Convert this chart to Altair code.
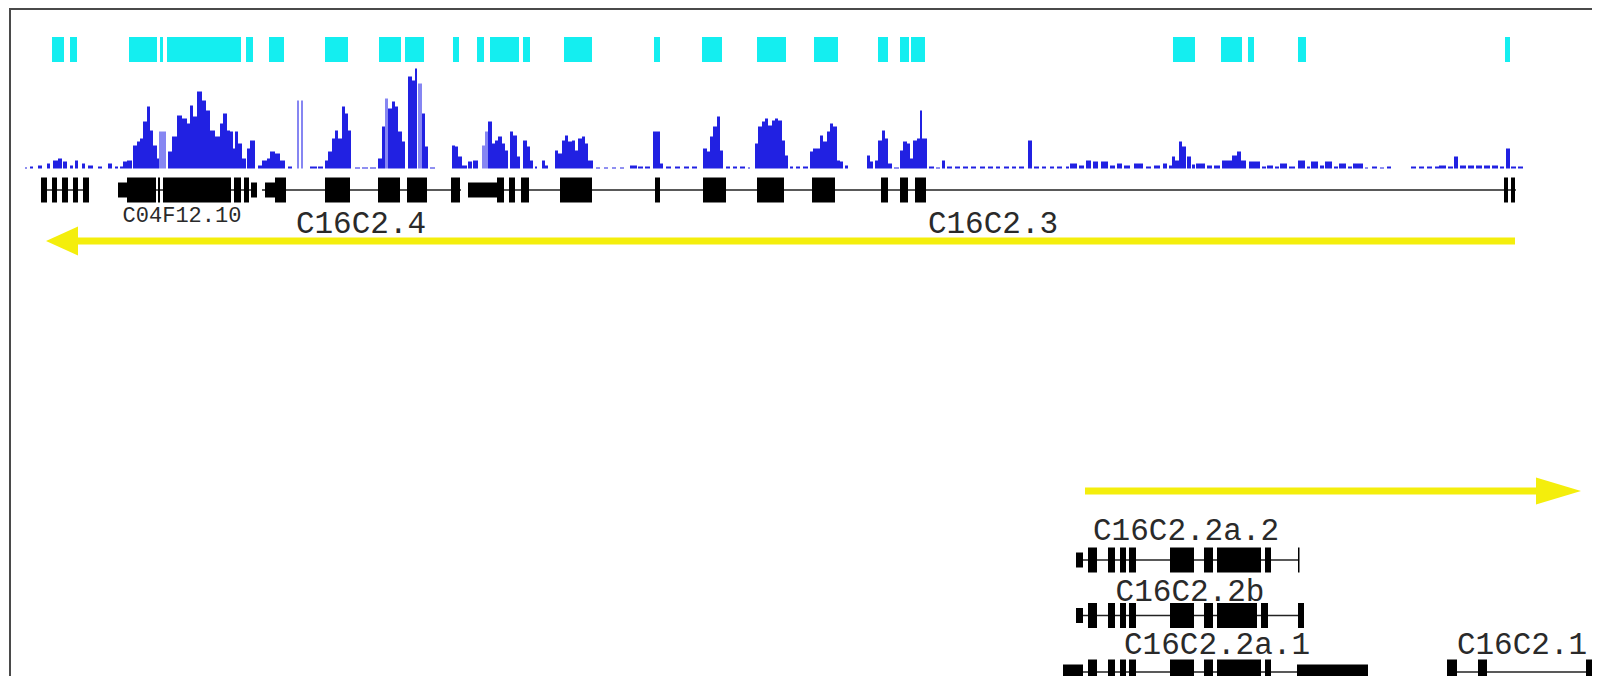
import altair as alt
import pandas as pd

# ---------------- data (genome positions) ----------------
# conserved-element track (cyan)
cyan_start = [52, 70, 129, 160, 167, 246, 269, 325, 379, 405, 453, 477, 490, 523,
              564, 654, 702, 757, 814, 878, 900, 911, 1173, 1221, 1248, 1298, 1505]
cyan_end = [64, 77, 157, 163, 241, 253, 284, 348, 401, 424, 459, 484, 519, 530,
            592, 660, 722, 786, 838, 888, 909, 925, 1195, 1242, 1254, 1306, 1510]

# coverage histogram: start, end, height, tone (d = dark, l = light)
cov_start = [25, 30, 38, 47, 53, 58, 63, 70, 75, 82, 88, 98, 108, 115, 120, 123,
             127, 133, 137, 140, 143, 147, 150, 153, 157, 159, 168, 172, 177, 182, 187, 190, 193, 197, 202, 206,
             210, 215, 220, 223, 227, 230, 233, 235, 238, 242, 247, 250,
             258, 262, 267, 270, 275, 280, 288, 297, 301,
             310, 318, 325, 328, 332, 335, 338, 342, 345, 348, 355, 362, 370,
             378, 382, 385, 388, 392, 395, 398, 402, 408, 412, 415, 418, 422, 425,
             430, 452, 455, 458, 462, 468, 473, 482, 485, 488, 492, 495, 498, 502, 505, 510, 513, 517, 523, 527, 530, 535, 542, 545,
             555, 558, 562, 565, 568, 572, 575, 578, 582, 585, 588,
             596, 604, 612, 620, 630, 638, 645, 653, 657, 660, 666, 675, 684, 692,
             703, 707, 710, 713, 717, 720, 726, 733, 740, 748,
             755, 758, 762, 765, 768, 772, 775, 778, 782, 785, 790, 796, 803,
             810, 813, 817, 820, 823, 827, 830, 833, 837, 840, 845,
             867, 870, 875, 878, 882, 885, 888, 894,
             900, 903, 907, 910, 913, 917, 920, 922,
             929, 936, 942, 947, 955, 963, 971, 980, 988, 996, 1004, 1012, 1019, 1028, 1034, 1042, 1050, 1057,
             1066, 1070, 1079, 1086, 1093, 1101, 1110, 1117, 1124, 1134, 1146, 1154, 1163, 1169, 1172, 1175, 1179, 1182,
             1187, 1192, 1196, 1207, 1214, 1222, 1232, 1237, 1241, 1249, 1262, 1267, 1275, 1280, 1289, 1298, 1307, 1311,
             1320, 1325, 1334, 1339, 1348, 1353, 1365, 1372, 1380, 1387, 1411, 1419, 1427, 1435, 1439, 1448, 1454, 1460,
             1468, 1476, 1484, 1492, 1500, 1506, 1511, 1518]
cov_end = [27, 33, 42, 50, 58, 62, 67, 73, 78, 85, 93, 102, 112, 118, 123, 127,
           132, 137, 140, 143, 147, 150, 153, 157, 159, 166, 172, 177, 182, 187, 190, 193, 197, 202, 206, 210,
           215, 220, 223, 227, 230, 233, 235, 238, 242, 246, 250, 255,
           262, 267, 270, 275, 280, 285, 292, 299, 303,
           317, 323, 328, 332, 335, 338, 342, 345, 348, 351, 360, 368, 376,
           382, 385, 388, 392, 395, 398, 402, 405, 412, 415, 417, 422, 425, 428,
           435, 455, 458, 462, 467, 472, 478, 485, 488, 492, 495, 498, 502, 505, 508, 513, 517, 520, 527, 530, 533, 537, 545, 548,
           558, 562, 565, 568, 572, 575, 578, 582, 585, 588, 593,
           600, 608, 616, 624, 637, 643, 650, 657, 660, 663, 671, 680, 689, 697,
           707, 710, 713, 717, 720, 723, 730, 737, 745, 750,
           758, 762, 765, 768, 772, 775, 778, 782, 785, 788, 793, 800, 808,
           813, 817, 820, 823, 827, 830, 833, 837, 840, 843, 848,
           870, 873, 878, 882, 885, 888, 892, 899,
           903, 907, 910, 913, 917, 920, 922, 927,
           934, 940, 945, 952, 960, 968, 976, 985, 993, 1000, 1009, 1016, 1024, 1032, 1039, 1046, 1054, 1062,
           1069, 1077, 1084, 1091, 1098, 1108, 1115, 1122, 1130, 1143, 1151, 1160, 1167, 1172, 1175, 1179, 1182, 1186,
           1191, 1195, 1205, 1212, 1220, 1232, 1237, 1241, 1246, 1260, 1266, 1273, 1279, 1287, 1295, 1305, 1310, 1318,
           1324, 1332, 1338, 1346, 1352, 1363, 1368, 1377, 1384, 1391, 1416, 1424, 1432, 1439, 1446, 1453, 1458, 1466,
           1474, 1482, 1490, 1498, 1504, 1510, 1516, 1523]
cov_height = [1, 2, 3, 5, 8, 10, 7, 3, 8, 5, 3, 2, 5, 2, 2, 7,
              8, 23, 27, 30, 47, 62, 38, 23, 10, 37, 17, 32, 53, 50, 45, 63, 52, 77, 68, 58,
              38, 32, 45, 55, 38, 37, 20, 37, 25, 10, 20, 28,
              3, 8, 10, 17, 15, 8, 2, 68, 68,
              2, 2, 8, 17, 30, 38, 30, 62, 55, 38, 1, 1, 1,
              10, 42, 70, 60, 67, 62, 37, 27, 92, 88, 100, 85, 55, 22,
              1, 23, 22, 12, 3, 7, 8, 23, 37, 47, 25, 28, 32, 25, 18, 37, 33, 12, 28, 22, 8, 2, 8, 3,
              18, 15, 28, 33, 27, 28, 18, 30, 32, 25, 8,
              1, 1, 1, 1, 3, 2, 2, 37, 37, 5, 2, 2, 2, 2,
              20, 17, 32, 42, 52, 18, 2, 2, 2, 1,
              25, 42, 47, 50, 43, 48, 50, 48, 28, 13, 2, 2, 2,
              17, 20, 20, 33, 27, 37, 45, 42, 8, 7, 3,
              13, 7, 8, 28, 38, 30, 5, 1,
              18, 27, 25, 10, 28, 30, 58, 30,
              2, 1, 8, 2, 2, 2, 2, 2, 2, 2, 2, 2, 2, 28, 2, 2, 2, 2,
              2, 5, 3, 8, 7, 7, 3, 5, 3, 5, 2, 3, 5, 3, 12, 8, 27, 22,
              12, 4, 5, 3, 3, 8, 13, 17, 8, 7, 2, 3, 2, 5, 2, 8, 2, 7,
              3, 7, 2, 5, 2, 5, 1, 2, 1, 2, 2, 2, 2, 2, 3, 2, 12, 3,
              3, 3, 3, 3, 2, 20, 2, 2]
LIGHT_AT = {159, 297, 301, 385, 418, 482, 485}
cov_tone = ["l" if s in LIGHT_AT else "d" for s in cov_start]

# gene models: backbone spans and exon/UTR blocks per row
backbone_row = ["top", "top", "top", "top", "r1", "r2", "r3", "r3"]
backbone_start = [41, 118, 262, 468, 1076, 1076, 1063, 1447]
backbone_end = [89, 257, 461, 1516, 1299, 1304, 1368, 1600]

part_row = (["top"] * 32 + ["r1"] * 10 + ["r2"] * 10 + ["r3"] * 10 + ["r3"] * 3)
part_start = [41, 52, 62, 73, 83,
              118, 127, 158, 163, 234, 244, 251,
              265, 275, 325, 378, 407, 451,
              468, 497, 509, 521, 560, 655, 703, 757, 812, 881, 900, 915, 1504, 1511,
              1076, 1088, 1108, 1120, 1129, 1170, 1204, 1217, 1265, 1298,
              1076, 1088, 1108, 1120, 1129, 1170, 1204, 1217, 1261, 1298,
              1063, 1088, 1108, 1120, 1129, 1170, 1204, 1217, 1265, 1297,
              1447, 1478, 1586]
part_end = [47, 57, 68, 78, 89,
            127, 156, 160, 231, 241, 249, 257,
            275, 286, 350, 400, 427, 460,
            497, 504, 515, 529, 592, 660, 726, 784, 835, 888, 908, 926, 1508, 1515,
            1083, 1097, 1115, 1126, 1136, 1194, 1213, 1261, 1271, 1299.5,
            1083, 1097, 1115, 1126, 1136, 1194, 1213, 1257, 1268, 1304,
            1083, 1097, 1115, 1126, 1136, 1194, 1213, 1261, 1271, 1368,
            1457, 1487, 1600]
part_kind = (["e"] * 5 + ["u", "e", "e", "e", "e", "e", "u"] + ["u", "e", "e", "e", "e", "e"]
             + ["u"] + ["e"] * 13
             + ["u"] + ["e"] * 9
             + ["u"] + ["e"] * 9
             + ["u"] + ["e"] * 8 + ["u"]
             + ["e"] * 3)

# gene labels
label_text = ["C04F12.10", "C16C2.4", "C16C2.3", "C16C2.2a.2", "C16C2.2b", "C16C2.2a.1", "C16C2.1"]
label_x = [182, 361, 993, 1186, 1190, 1217, 1522]
label_row = ["top_small", "top", "top", "r1", "r2", "r3", "r3"]

# strand arrows
arrow_tip = [46, 1581]
arrow_tail = [1515, 1085]
arrow_dir = ["left", "right"]

# ---------------- layout / style ----------------
CYAN = "#14EEF0"
YELLOW = "#F4EE0C"
DARK_BLUE = "#2121E2"
LIGHT_BLUE = "#8686F2"
CYAN_Y = (37, 62)
COV_BASE = 168.5
ROW_LINE = {"top": 190, "r1": 560, "r2": 615.5, "r3": 672}
HALF = {"e": 12.5, "u": 7.5}
LABEL_Y = {"top_small": 215, "top": 224, "r1": 531, "r2": 592, "r3": 645}
LABEL_SIZE = {"top_small": 22}
ARROW_Y = {"left": 241, "right": 491}
HEAD_LEN = {"left": 32, "right": 45}
HEAD_HALF = {"left": 14.5, "right": 13.5}

XS = alt.Scale(domain=[8, 1592], nice=False, zero=False)
YS = alt.Scale(domain=[8, 676], reverse=True, nice=False, zero=False)

def X(f):
    return alt.X(f, type="quantitative", scale=XS, axis=None)

def Y(f):
    return alt.Y(f, type="quantitative", scale=YS, axis=None)

# ---------------- tables ----------------
df_cyan = pd.DataFrame({"x0": cyan_start, "x1": cyan_end,
                        "y0": CYAN_Y[0], "y1": CYAN_Y[1]})

df_cov = pd.DataFrame({"x0": cov_start, "x1": cov_end, "h": cov_height, "tone": cov_tone})
df_cov["top"] = COV_BASE - df_cov["h"]
df_cov["base"] = COV_BASE
df_cov["ord"] = df_cov["tone"].map({"l": 0, "d": 1})

df_bb = pd.DataFrame({"x0": backbone_start, "x1": backbone_end,
                      "y": [ROW_LINE[r] for r in backbone_row]})

df_parts = pd.DataFrame({"x0": part_start, "x1": part_end, "row": part_row, "kind": part_kind})
df_parts["y0"] = [ROW_LINE[r] - HALF[k] for r, k in zip(part_row, part_kind)]
df_parts["y1"] = [ROW_LINE[r] + HALF[k] for r, k in zip(part_row, part_kind)]

df_lab = pd.DataFrame({"label": label_text, "x": label_x,
                       "y": [LABEL_Y[r] for r in label_row],
                       "fs": [LABEL_SIZE.get(r, 31) for r in label_row]})

line_x0, line_x1 = [], []
for tip, tail, d in zip(arrow_tip, arrow_tail, arrow_dir):
    base = tip + HEAD_LEN[d] * (1 if d == "left" else -1)
    line_x0.append(min(base, tail))
    line_x1.append(max(base, tail))
df_arrow = pd.DataFrame({"x0": line_x0, "x1": line_x1, "tip": arrow_tip, "dir": arrow_dir,
                         "y": [ARROW_Y[d] for d in arrow_dir]})

# ---------------- layers ----------------
cyan = alt.Chart(df_cyan).mark_rect(color=CYAN, clip=True).encode(
    x=X("x0"), x2="x1", y=Y("y0"), y2="y1")

cov = alt.Chart(df_cov).mark_rect(clip=True).encode(
    x=X("x0"), x2="x1", y=Y("top"), y2="base",
    color=alt.Color("tone:N", scale=alt.Scale(domain=["d", "l"], range=[DARK_BLUE, LIGHT_BLUE]), legend=None),
    order=alt.Order("ord:Q"))

backbone = alt.Chart(df_bb).mark_rule(color="#222222", strokeWidth=1.5, clip=True).encode(
    x=X("x0"), x2="x1", y=Y("y"))

parts = alt.Chart(df_parts).mark_rect(color="#000000", clip=True).encode(
    x=X("x0"), x2="x1", y=Y("y0"), y2="y1")

labels = alt.Chart(df_lab).mark_text(font="Liberation Mono", color="#2a2a2a",
                                     align="center", baseline="middle", clip=True).encode(
    x=X("x"), y=Y("y"), text="label:N", size=alt.Size("fs:Q", scale=None, legend=None))

arrow_lines = alt.Chart(df_arrow).mark_rule(color=YELLOW, strokeWidth=7, strokeCap="butt",
                                            clip=True).encode(
    x=X("x0"), x2="x1", y=Y("y"))

def head(d, path):
    L = HEAD_LEN[d]
    return alt.Chart(df_arrow).transform_filter(alt.datum.dir == d).mark_point(
        shape=path, filled=True, opacity=1, color=YELLOW, strokeWidth=0,
        size=(2 * L) ** 2, clip=True).encode(x=X("tip"), y=Y("y"))

head_left = head("left", "M0,0L1,-%.4fL1,%.4fZ" % (HEAD_HALF["left"] / HEAD_LEN["left"],
                                                  HEAD_HALF["left"] / HEAD_LEN["left"]))
head_right = head("right", "M0,0L-1,-%.4fL-1,%.4fZ" % (HEAD_HALF["right"] / HEAD_LEN["right"],
                                                      HEAD_HALF["right"] / HEAD_LEN["right"]))

border_left = alt.Chart(df_cyan.head(1)).mark_rule(color="#4a4a4a", strokeWidth=2).encode(
    x=alt.value(2), y=alt.value(0), y2=alt.value(668))
border_top = alt.Chart(df_cyan.head(1)).mark_rule(color="#4a4a4a", strokeWidth=2).encode(
    x=alt.value(1), x2=alt.value(1584), y=alt.value(1))

chart = alt.layer(
    cyan, cov, backbone, parts, labels, arrow_lines, head_left, head_right,
    border_left, border_top
).properties(
    width=1584, height=668, padding=0,
    autosize=alt.AutoSizeParams(type="none"),
    background="white",
).configure_view(stroke=None)

chart.save("out.html", embed_options={"renderer": "svg", "actions": False})
